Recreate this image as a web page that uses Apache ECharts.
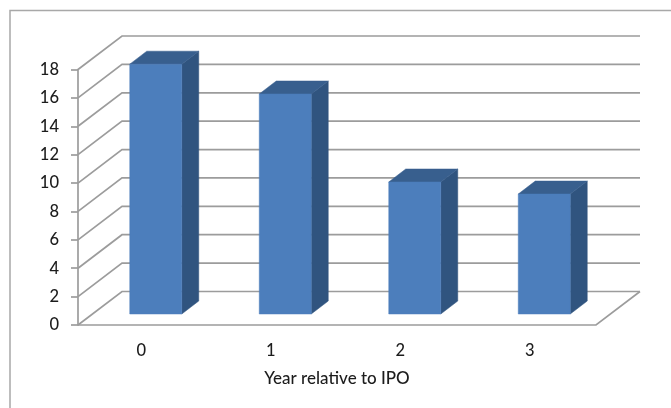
<!DOCTYPE html>
<html>
<head>
<meta charset="utf-8">
<style>html,body{margin:0;padding:0;background:#fff}#chart{width:671px;height:408px}</style>
<script src="https://cdn.jsdelivr.net/npm/echarts@6/dist/echarts.min.js"></script>
</head>
<body>
<div id="chart"></div>
<script>
// Values per year after the listing
const years = ['0', '1', '2', '3'];
const values = [17.6, 15.5, 9.3, 8.45];
const yTicks = [0, 2, 4, 6, 8, 10, 12, 14, 16, 18];

// Oblique projection used for the pseudo 3D box
const wallDx = 44, wallDy = 33.5;
const barShiftX = 13, barShiftY = 11;
const barWidth = 52, barDepthX = 17, barDepthY = 13;
const gridColor = '#9c9c9c';
const font = 'Lato, "Open Sans", sans-serif';

const chart = echarts.init(document.getElementById('chart'), null, { renderer: 'canvas' });

function lineEl(points, width) {
  return {
    type: 'polyline',
    shape: { points },
    style: { fill: 'none', stroke: gridColor, lineWidth: width }
  };
}

// Back wall gridlines with their diagonal run to the front axis
function renderWall(params, api) {
  const cs = params.coordSys;
  const y = api.coord([0, api.value(1)])[1];
  const left = cs.x, right = cs.x + cs.width;
  const children = [lineEl([[left, y], [left + wallDx, y - wallDy], [right + wallDx, y - wallDy]], 1.7)];
  if (api.value(1) === 0) {
    children.push(lineEl([[left, y], [right, y], [right + wallDx, y - wallDy]], 1.7));
  }
  return { type: 'group', children };
}

function poly(points, fill) {
  return { type: 'polygon', shape: { points }, style: { fill, stroke: fill, lineWidth: 0.5 } };
}

// Each bar is a front face, a darker side and a top
function renderBar(params, api) {
  const top = api.coord([api.value(0), api.value(1)]);
  const base = api.coord([api.value(0), 0]);
  const x0 = top[0] + barShiftX - barWidth / 2, x1 = x0 + barWidth;
  const yTop = top[1] - barShiftY, yBase = base[1] - barShiftY;
  return {
    type: 'group',
    children: [
      poly([[x1, yTop], [x1 + barDepthX, yTop - barDepthY], [x1 + barDepthX, yBase - barDepthY], [x1, yBase]], '#30547f'),
      poly([[x0, yTop], [x0 + barDepthX, yTop - barDepthY], [x1 + barDepthX, yTop - barDepthY], [x1, yTop]], '#385f8e'),
      poly([[x0, yTop], [x1, yTop], [x1, yBase], [x0, yBase]], '#4c7ebc')
    ]
  };
}

chart.setOption({
  animation: false,
  backgroundColor: '#ffffff',
  graphic: [{
    type: 'polyline',
    silent: true,
    shape: { points: [[10, 408], [10, 10.5], [671, 10.5]] },
    style: { fill: 'none', stroke: '#a8a8a8', lineWidth: 1.5 }
  }],
  grid: { left: 78, right: 75, top: 69.5, bottom: 83 },
  xAxis: {
    type: 'category',
    data: years,
    name: 'Year relative to IPO',
    nameLocation: 'middle',
    nameGap: 45,
    nameTextStyle: { color: '#1c1c1c', fontSize: 17, fontFamily: font, fontWeight: 500 },
    axisLine: { show: false },
    axisTick: { show: false },
    axisLabel: { color: '#1c1c1c', fontSize: 16.5, fontFamily: font, fontWeight: 500, margin: 17, padding: [0, 3, 0, 0] },
    splitLine: { show: false }
  },
  yAxis: {
    type: 'value',
    min: 0,
    max: 18,
    interval: 2,
    axisLine: { show: true, lineStyle: { color: gridColor, width: 1.7 } },
    axisTick: { show: true, length: 7, lineStyle: { color: gridColor, width: 1.7 } },
    axisLabel: { color: '#1c1c1c', fontSize: 16.5, fontFamily: font, fontWeight: 500, margin: 19 },
    splitLine: { show: false }
  },
  series: [
    {
      type: 'custom',
      silent: true,
      z: 1,
      renderItem: renderWall,
      encode: { x: 0, y: 1 },
      data: yTicks.map(t => [0, t])
    },
    {
      type: 'custom',
      z: 3,
      renderItem: renderBar,
      encode: { x: 0, y: 1 },
      data: values.map((v, i) => [i, v])
    }
  ]
});
</script>
</body>
</html>
